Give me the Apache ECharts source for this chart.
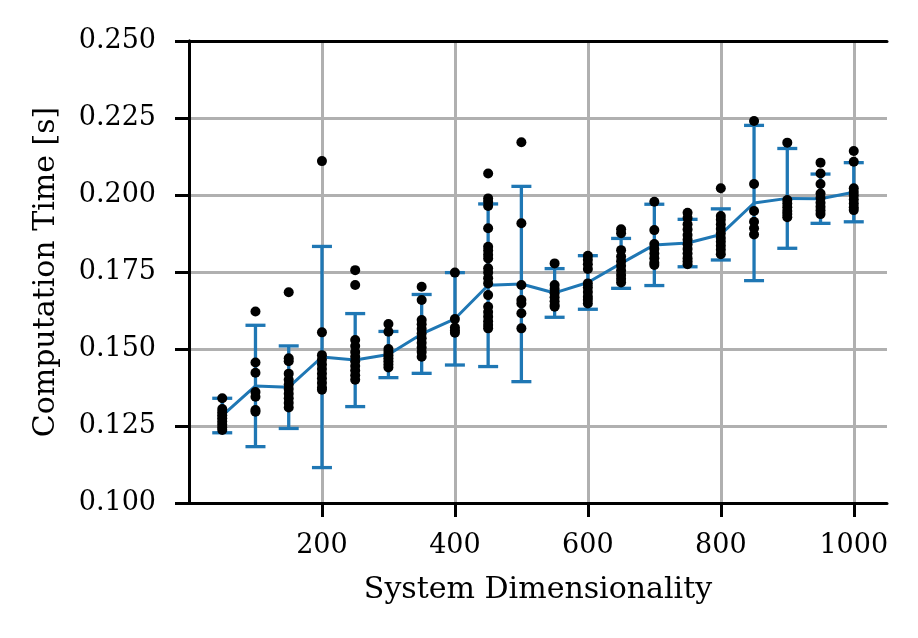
<!DOCTYPE html>
<html lang="en">
<head>
<meta charset="utf-8">
<title>Computation Time vs System Dimensionality</title>
<style>
  html, body { margin: 0; padding: 0; background: #fff; }
  #main { width: 918px; height: 638px; }
</style>
</head>
<body>
<div id="main"></div>
<script src="https://cdn.jsdelivr.net/npm/echarts@6/dist/echarts.min.js"></script>
<script type="text/javascript">
// system sizes (x positions)
var dims = [50, 100, 150, 200, 250, 300, 350, 400, 450, 500,
            550, 600, 650, 700, 750, 800, 850, 900, 950, 1000];

// mean computation time per size
var meanTime = [0.1284, 0.1380, 0.1376, 0.1474, 0.1464, 0.1482, 0.1549, 0.1598, 0.1707, 0.1711,
                0.1682, 0.1716, 0.1778, 0.1838, 0.1844, 0.1872, 0.1974, 0.1989, 0.1988, 0.2009];

// half length of the error bars
var errTime = [0.0056, 0.0197, 0.0134, 0.0359, 0.0151, 0.0075, 0.0128, 0.0150, 0.0264, 0.0317,
               0.0079, 0.0087, 0.0081, 0.0132, 0.0077, 0.0083, 0.0252, 0.0162, 0.0080, 0.0096];

// single runs (black dots), one list per size
var runs = [
  [0.1340, 0.1305, 0.1295, 0.1285, 0.1275, 0.1265, 0.1255, 0.1245, 0.1237],
  [0.1622, 0.1456, 0.1423, 0.1360, 0.1345, 0.1302, 0.1296],
  [0.1684, 0.1470, 0.1460, 0.1420, 0.1400, 0.1385, 0.1370, 0.1355, 0.1340, 0.1325, 0.1310],
  [0.2110, 0.1554, 0.1480, 0.1465, 0.1450, 0.1435, 0.1420, 0.1405, 0.1390, 0.1375, 0.1368],
  [0.1756, 0.1708, 0.1529, 0.1510, 0.1490, 0.1475, 0.1460, 0.1445, 0.1430, 0.1415, 0.1400],
  [0.1581, 0.1556, 0.1500, 0.1490, 0.1480, 0.1470, 0.1460, 0.1450, 0.1440],
  [0.1702, 0.1659, 0.1594, 0.1580, 0.1565, 0.1550, 0.1535, 0.1520, 0.1505, 0.1490, 0.1475],
  [0.1748, 0.1597, 0.1570, 0.1560, 0.1553],
  [0.2070, 0.1989, 0.1978, 0.1964, 0.1892, 0.1832, 0.1820, 0.1806, 0.1794, 0.1762,
   0.1748, 0.1730, 0.1713, 0.1675, 0.1637, 0.1620, 0.1605, 0.1590, 0.1578, 0.1567],
  [0.2171, 0.1908, 0.1708, 0.1659, 0.1648, 0.1616, 0.1567],
  [0.1778, 0.1708, 0.1695, 0.1681, 0.1668, 0.1655, 0.1643, 0.1637],
  [0.1803, 0.1790, 0.1775, 0.1760, 0.1713, 0.1700, 0.1685, 0.1670, 0.1660, 0.1648],
  [0.1889, 0.1876, 0.1821, 0.1800, 0.1785, 0.1770, 0.1755, 0.1740, 0.1728, 0.1716],
  [0.1978, 0.1886, 0.1841, 0.1825, 0.1810, 0.1795, 0.1780, 0.1773],
  [0.1942, 0.1925, 0.1905, 0.1888, 0.1870, 0.1855, 0.1840, 0.1825, 0.1810, 0.1795, 0.1785, 0.1775],
  [0.2022, 0.1932, 0.1920, 0.1905, 0.1890, 0.1875, 0.1860, 0.1848, 0.1835, 0.1822, 0.1808],
  [0.2240, 0.2036, 0.1948, 0.1913, 0.1892, 0.1872],
  [0.2170, 0.1984, 0.1972, 0.1960, 0.1948, 0.1938, 0.1928],
  [0.2105, 0.2070, 0.2036, 0.2005, 0.1990, 0.1975, 0.1962, 0.1950, 0.1938],
  [0.2143, 0.2108, 0.2022, 0.2010, 0.1998, 0.1985, 0.1972, 0.1960, 0.1951]
];

var xTicks = [200, 400, 600, 800, 1000];

var blue = '#1f77b4';
var serif = 'DejaVu Serif';

var scatterData = [];
runs.forEach(function (list, i) {
    list.forEach(function (v) { scatterData.push([dims[i], v]); });
});
var lineData = dims.map(function (d, i) { return [d, meanTime[i]]; });
var errData = dims.map(function (d, i) {
    return [d, meanTime[i] - errTime[i], meanTime[i] + errTime[i]];
});

var myChart = echarts.init(document.getElementById('main'));

var spine = { show: true, lineStyle: { color: '#000', width: 3 } };

var option = {
    animation: false,
    grid: { left: 189, right: 31, top: 41, bottom: 135 },
    xAxis: [
        {
            type: 'value',
            min: 0,
            max: 1050,
            interval: 200,
            name: 'System Dimensionality',
            nameLocation: 'middle',
            nameGap: 72,
            nameTextStyle: { fontFamily: serif, fontSize: 30, color: '#000' },
            axisLine: spine,
            axisTick: { show: true, inside: false, length: 14, customValues: xTicks,
                        lineStyle: { color: '#000', width: 3 } },
            axisLabel: {
                customValues: xTicks, margin: 29, fontFamily: serif, fontSize: 27, color: '#000',
                formatter: function (v) { return String(v); }
            },
            splitLine: { show: true, lineStyle: { color: '#b0b0b0', width: 3 } }
        },
        {
            type: 'value', position: 'top', min: 0, max: 1050,
            axisLine: spine, axisTick: { show: false }, axisLabel: { show: false },
            splitLine: { show: false }
        }
    ],
    yAxis: [
        {
            type: 'value',
            min: 0.1,
            max: 0.25,
            interval: 0.025,
            name: 'Computation Time [s]',
            nameLocation: 'middle',
            nameGap: 128,
            nameTextStyle: { fontFamily: serif, fontSize: 30, color: '#000' },
            axisLine: spine,
            axisTick: { show: true, inside: false, length: 14, lineStyle: { color: '#000', width: 3 } },
            axisLabel: {
                margin: 33, fontFamily: serif, fontSize: 27, color: '#000',
                formatter: function (v) { return v.toFixed(3); }
            },
            splitLine: { show: true, lineStyle: { color: '#b0b0b0', width: 3 } }
        },
        {
            type: 'value', position: 'right', min: 0.1, max: 0.25,
            axisLine: spine, axisTick: { show: false }, axisLabel: { show: false },
            splitLine: { show: false }
        }
    ],
    series: [
        {
            name: 'error',
            type: 'custom',
            z: 2,
            data: errData,
            encode: { x: 0, y: [1, 2] },
            renderItem: function (params, api) {
                var x = api.value(0);
                var lo = api.coord([x, api.value(1)]);
                var hi = api.coord([x, api.value(2)]);
                var half = 10;
                var st = { stroke: blue, lineWidth: 3.3 };
                return {
                    type: 'group',
                    children: [
                        { type: 'line', shape: { x1: hi[0], y1: hi[1], x2: lo[0], y2: lo[1] }, style: st },
                        { type: 'line', shape: { x1: hi[0] - half, y1: hi[1], x2: hi[0] + half, y2: hi[1] }, style: st },
                        { type: 'line', shape: { x1: lo[0] - half, y1: lo[1], x2: lo[0] + half, y2: lo[1] }, style: st }
                    ]
                };
            }
        },
        {
            name: 'mean',
            type: 'line',
            z: 3,
            data: lineData,
            showSymbol: false,
            symbol: 'none',
            lineStyle: { color: blue, width: 3 }
        },
        {
            name: 'runs',
            type: 'scatter',
            z: 4,
            data: scatterData,
            symbol: 'circle',
            symbolSize: 10,
            itemStyle: { color: '#000', opacity: 1 }
        }
    ]
};

myChart.setOption(option);
</script>
</body>
</html>
